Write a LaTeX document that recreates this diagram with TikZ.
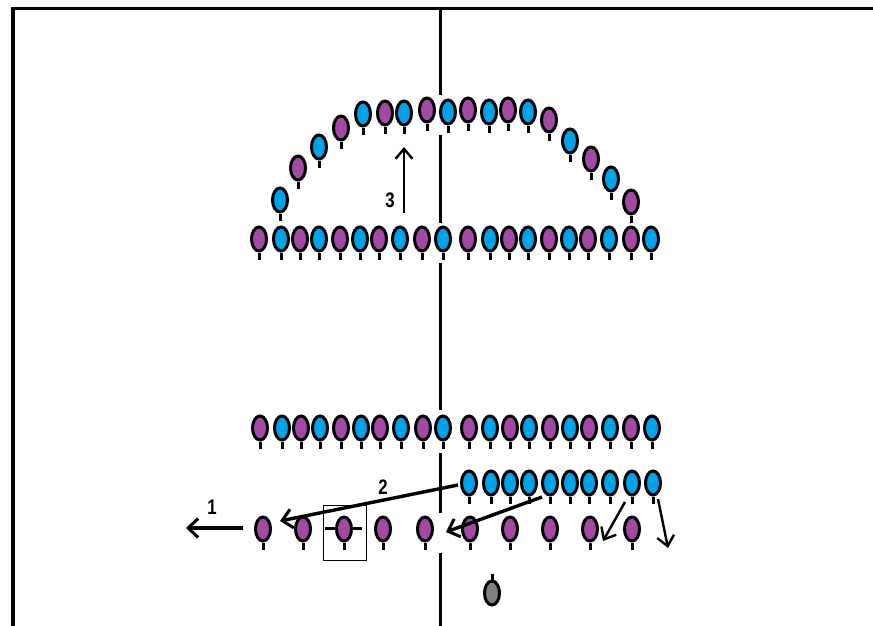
\documentclass[tikz,border=0pt]{standalone}
\usepackage{fontspec}
\setmainfont{Liberation Sans}
\usetikzlibrary{arrows.meta,shapes.geometric}
\definecolor{pur}{HTML}{A349A4}
\definecolor{blu}{HTML}{00A2E8}
\definecolor{gry}{HTML}{7F7F7F}

\begin{document}
\begin{tikzpicture}[
  x=1pt, y=-1pt,
  bulb/.style={draw, ellipse, line width=3pt, minimum width=15pt, minimum height=24pt, inner sep=0pt},
  stalk/.style={line width=3pt},
  arr/.style={-{Straight Barb[length=10pt,width=19pt,line width=3pt]}, line width=3.4pt},
  thinarr/.style={-{Straight Barb[length=10pt,width=17pt,line width=2.4pt]}, line width=2.4pt},
  num/.style={font=\bfseries\fontsize{21}{21}\selectfont, inner sep=0pt, xscale=0.8}
]
\useasboundingbox (0,0) rectangle (873,626);
% frame and middle line
\draw[line width=3.5pt] (13,626) -- (13,8.5) -- (873,8.5);
\foreach \a/\b in {8/95,135/223,263/410,453/513,553/626}
  \draw[line width=3pt] (440,\a) -- (440,\b);
% top row
\foreach \x/\c [count=\i] in {259/pur,281/blu,300/pur,319/blu,340/pur,360/blu,379/pur,400/blu,422/pur,443/blu,
    468/pur,490/blu,509/pur,528/blu,549/pur,569/blu,588/pur,609/blu,631/pur,651/blu} {
  \node[bulb, fill=\c] (top\i) at (\x,239) {};
  \draw[stalk] (top\i.south) -- ++(0,7);
}
% arc
\foreach \x/\y/\c [count=\i] in {280/200/blu,298/168/pur,319/147/blu,341/128/pur,363/114/blu,385/113/pur,404/113/blu,
    427/110/pur,448/112/blu,468/110/pur,489/112/blu,508/110/pur,528/112/blu,549/120/pur,570/141/blu,
    591/159/pur,611/179/blu,631/202/pur} {
  \node[bulb, fill=\c] (arc\i) at (\x,\y) {};
  \draw[stalk] (arc\i.south) -- ++(0,7);
}
% lower row
\foreach \x/\c [count=\i] in {260/pur,282/blu,301/pur,320/blu,341/pur,361/blu,380/pur,401/blu,423/pur,443/blu,
    469/pur,490/blu,510/pur,529/blu,550/pur,570/blu,589/pur,610/blu,631/pur,652/blu} {
  \node[bulb, fill=\c] (low\i) at (\x,428) {};
  \draw[stalk] (low\i.south) -- ++(0,7);
}
% blue row
\foreach \x [count=\i] in {469,491,510,529,550,570,589,610,632,653} {
  \node[bulb, fill=blu] (blue\i) at (\x,483) {};
  \draw[stalk] (blue\i.south) -- ++(0,7);
}
% boxed one
\node[draw, line width=0.8pt, minimum width=43pt, minimum height=55pt, inner sep=0pt] (frame) at (344.5,532.5) {};
\coordinate (barl) at (325,528);
\coordinate (barr) at (362,528);
\draw[stalk] (barl) -- (barr);
% purple row
\foreach \x [count=\i] in {263,303,344,383,425,470,510,550,590,632} {
  \node[bulb, fill=pur] (pur\i) at (\x,529) {};
  \draw[stalk] (pur\i.south) -- ++(0,7);
}
% grey one
\node[bulb, fill=gry] (grey) at (492,593) {};
\coordinate (greytop) at (492,574);
\draw[stalk] (grey.north) -- (greytop);
% arrows
\coordinate (ones) at (243,528);
\coordinate (onee) at (186,528);
\coordinate (twos) at (458,485);
\coordinate (twoe) at (280,521);
\coordinate (threes) at (404,213);
\coordinate (threee) at (404,147);
\coordinate (as) at (542,497);
\coordinate (ae) at (446,532);
\coordinate (bs) at (625,502);
\coordinate (be) at (603,541);
\coordinate (cs) at (658,499);
\coordinate (ce) at (668,548);
\draw[arr] (ones) -- (onee);
\draw[arr] (twos) -- (twoe);
\draw[thinarr] (threes) -- (threee);
\draw[arr] (as) -- (ae);
\draw[thinarr] (bs) -- (be);
\draw[thinarr] (cs) -- (ce);
\node[num] (lab1) at (212,507) {1};
\node[num] (lab2) at (383,487) {2};
\node[num] (lab3) at (390,200) {3};
\end{tikzpicture}
\end{document}
